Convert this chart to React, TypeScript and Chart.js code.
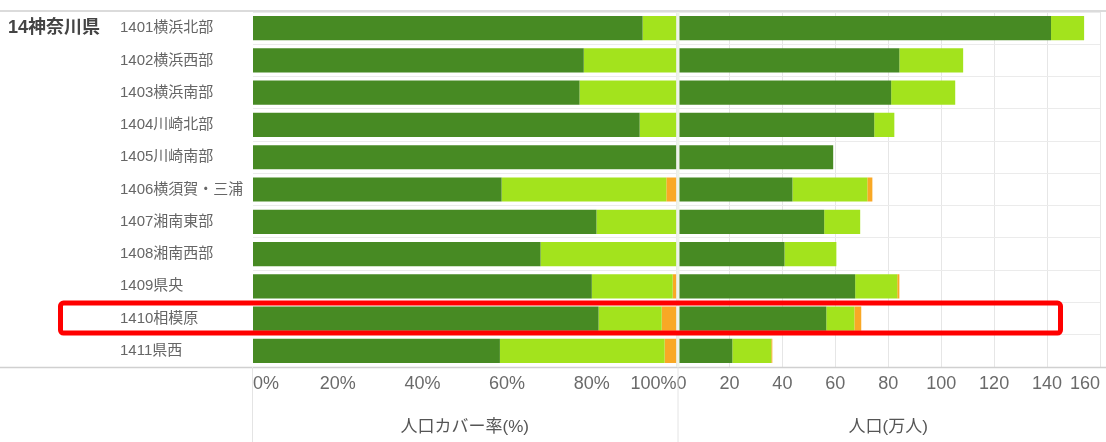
import React, { useEffect, useRef } from "react";
import { Chart, registerables } from "chart.js";

Chart.register(...registerables);

const groupLabel = "14神奈川県";
const highlighted = "1410相模原";
const categories = [
  "1401横浜北部",
  "1402横浜西部",
  "1403横浜南部",
  "1404川崎北部",
  "1405川崎南部",
  "1406横須賀・三浦",
  "1407湘南東部",
  "1408湘南西部",
  "1409県央",
  "1410相模原",
  "1411県西",
];

// 人口カバー率(%)
const coverDark = [92.0, 78.1, 77.1, 91.3, 100, 58.7, 81.1, 67.9, 80.0, 81.6, 58.3];
const coverLight = [8.0, 21.9, 22.9, 8.7, 0, 38.9, 18.9, 32.1, 19.1, 14.9, 38.9];
const coverOrange = [0, 0, 0, 0, 0, 2.4, 0, 0, 0.9, 3.5, 2.8];

// 人口(万人)
const popDark = [141.5, 84.2, 81.1, 74.7, 59.2, 43.8, 55.8, 40.8, 67.5, 56.6, 21.1];
const popLight = [12.5, 24.1, 24.2, 7.6, 0, 28.3, 13.6, 19.6, 15.9, 10.6, 14.7];
const popOrange = [0, 0, 0, 0, 0, 1.9, 0, 0, 0.8, 2.6, 0.4];

const coverMax = 100;
const popMax = 160;
const tickStep = 20;
const coverTitle = "人口カバー率(%)";
const popTitle = "人口(万人)";

const DARK = "#478a23";
const LIGHT = "#a3e31d";
const ORANGE = "#f9a825";
const FONT = '"Liberation Sans", "Noto Sans CJK JP", sans-serif';

export default function App() {
  const ref = useRef<HTMLCanvasElement | null>(null);

  useEffect(() => {
    document.body.style.margin = "0";
    const canvas = ref.current;
    if (!canvas) return;

    const barCommon = {
      grouped: false,
      barPercentage: 0.75,
      categoryPercentage: 1,
      borderWidth: 0,
    };

    const decor = {
      id: "decor",
      afterDraw(chart: any) {
        const { ctx, chartArea, width, height } = chart;
        const x1 = chart.scales.x1;
        const y = chart.scales.y;
        ctx.save();
        // top & bottom frame lines
        ctx.strokeStyle = "#d0d0d0";
        ctx.lineWidth = 1.5;
        ctx.beginPath();
        ctx.moveTo(0, chartArea.top - 1);
        ctx.lineTo(width, chartArea.top - 1);
        ctx.moveTo(0, chartArea.bottom + 0.5);
        ctx.lineTo(width, chartArea.bottom + 0.5);
        ctx.stroke();
        // vertical panel lines
        ctx.strokeStyle = "#e4e4e4";
        ctx.lineWidth = 1;
        ctx.beginPath();
        ctx.moveTo(chartArea.left - 0.5, chartArea.bottom);
        ctx.lineTo(chartArea.left - 0.5, height);
        ctx.moveTo(x1.right + 1.5, chartArea.bottom);
        ctx.lineTo(x1.right + 1.5, height);
        ctx.stroke();
        ctx.strokeStyle = "#eef3ea";
        ctx.lineWidth = 3;
        ctx.beginPath();
        ctx.moveTo(x1.right + 1.5, chartArea.top);
        ctx.lineTo(x1.right + 1.5, chartArea.bottom);
        ctx.stroke();
        // group label
        ctx.fillStyle = "#444";
        ctx.font = "bold 18px " + FONT;
        ctx.textAlign = "left";
        ctx.textBaseline = "middle";
        ctx.fillText(groupLabel, 8, y.getPixelForValue(0));
        // highlight frame
        const idx = categories.indexOf(highlighted);
        const cy = y.getPixelForValue(idx);
        ctx.strokeStyle = "#ff0000";
        ctx.lineWidth = 5;
        ctx.beginPath();
        const rx = 60.5, rw = 1000, ry = cy - 15.5, rh = 30;
        if ((ctx as any).roundRect) (ctx as any).roundRect(rx, ry, rw, rh, 3);
        else ctx.rect(rx, ry, rw, rh);
        ctx.stroke();
        ctx.restore();
      },
    };

    const xTicks = {
      stepSize: tickStep,
      align: "inner",
      padding: 6,
      maxRotation: 0,
      autoSkip: false,
      color: "#6a6a6a",
      font: { family: FONT, size: 18 },
    };

    const chart = new Chart(canvas, {
      type: "bar",
      data: {
        labels: categories,
        datasets: [
          { ...barCommon, data: coverDark, backgroundColor: DARK, xAxisID: "x1", yAxisID: "y" },
          { ...barCommon, data: coverLight, backgroundColor: LIGHT, xAxisID: "x1", yAxisID: "y" },
          { ...barCommon, data: coverOrange, backgroundColor: ORANGE, xAxisID: "x1", yAxisID: "y" },
          { ...barCommon, data: popDark, backgroundColor: DARK, xAxisID: "x2", yAxisID: "y" },
          { ...barCommon, data: popLight, backgroundColor: LIGHT, xAxisID: "x2", yAxisID: "y" },
          { ...barCommon, data: popOrange, backgroundColor: ORANGE, xAxisID: "x2", yAxisID: "y" },
        ] as any,
      },
      options: {
        indexAxis: "y",
        animation: false,
        responsive: false,
        layout: { padding: { left: 120, top: 7, right: 5, bottom: 0 } },
        plugins: { legend: { display: false }, tooltip: { enabled: false } },
        scales: {
          x1: {
            type: "linear",
            axis: "x",
            position: "bottom",
            stack: "xs",
            stackWeight: 1,
            stacked: true,
            min: 0,
            max: coverMax,
            grid: { display: false, drawTicks: false },
            border: { display: false },
            ticks: { ...xTicks, callback: (v: any) => v + "%" },
            title: {
              display: true,
              text: coverTitle,
              color: "#555",
              font: { family: FONT, size: 17 },
              padding: { top: 0, bottom: 4 },
            },
            afterFit: (s: any) => {
              s.height = 75;
            },
          },
          x2: {
            type: "linear",
            axis: "x",
            position: "bottom",
            stack: "xs",
            stackWeight: 1,
            stacked: true,
            min: 0,
            max: popMax,
            grid: { color: "#e6e6e6", drawTicks: false },
            border: { display: false },
            ticks: { ...xTicks },
            title: {
              display: true,
              text: popTitle,
              color: "#555",
              font: { family: FONT, size: 17 },
              padding: { top: 0, bottom: 4 },
            },
            afterFit: (s: any) => {
              s.height = 75;
            },
          },
          y: {
            type: "category",
            stacked: true,
            grid: { color: "#ebebeb", offset: true, drawTicks: false },
            border: { display: false },
            ticks: {
              crossAlign: "far",
              color: "#666",
              font: { family: FONT, size: 15 },
              autoSkip: false,
            },
            afterFit: (s: any) => {
              s.width = 133;
            },
          },
        } as any,
      },
      plugins: [decor],
    });

    return () => chart.destroy();
  }, []);

  return (
    <div style={{ width: 1106, height: 442, position: "relative" }}>
      <canvas ref={ref} width={1106} height={442} style={{ display: "block" }} />
    </div>
  );
}
